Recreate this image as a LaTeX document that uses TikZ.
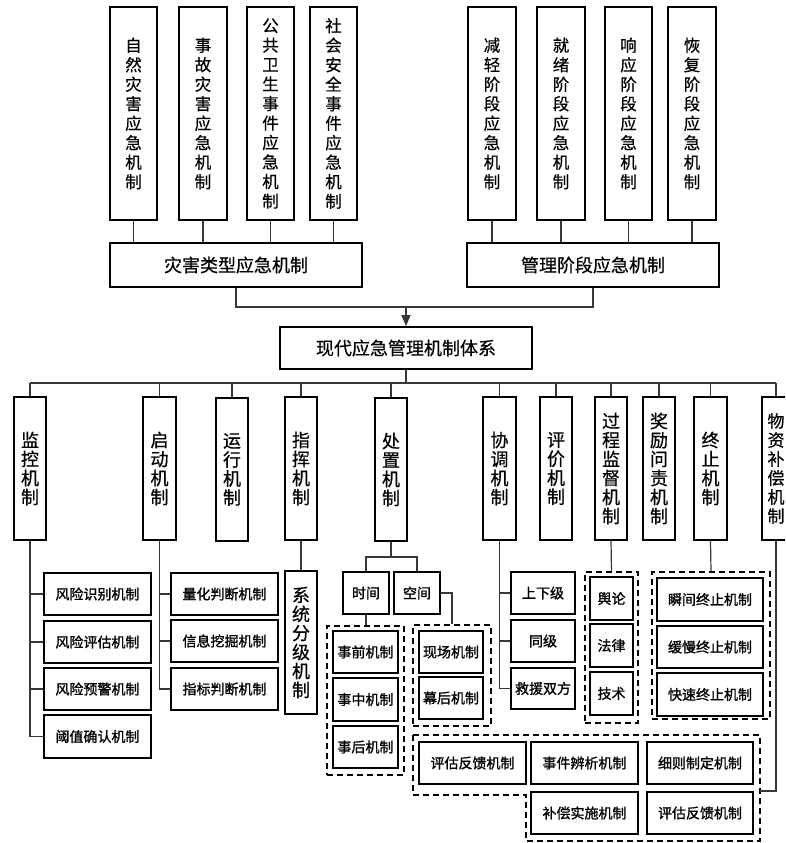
\documentclass[tikz,border=0pt]{standalone}
\usepackage{fontspec}
\setmainfont{Noto Sans CJK SC}[FakeBold=0.5]
\newfontfamily\cjkb[FakeBold=1.2]{Noto Sans CJK SC}
\usetikzlibrary{arrows.meta}
\newcommand\bx[7][]{\node[box,#1,minimum width={#5pt-#3pt},minimum height={#6pt-#4pt}] (#2) at ({(#3+#5)/2},{(#4+#6)/2}) {#7};}
\begin{document}
\begin{tikzpicture}[x=1pt,y=-1pt,
 box/.style={draw=black,line width=1.7pt,inner sep=0pt,align=center},
 topv/.style={font=\fontsize{16.5}{19.5}\selectfont},
 midh/.style={font=\fontsize{18}{20}\selectfont},
 secv/.style={font=\fontsize{18}{19}\selectfont},
 secw/.style={font=\fontsize{17}{19}\selectfont},
 leaf/.style={font=\cjkb\fontsize{14}{16}\selectfont},
 dashb/.style={dash pattern=on 6pt off 4pt},
 conn/.style={draw=black!78,line width=1.2pt},
 dashbox/.style={draw=black,line width=1.7pt,dash pattern=on 6pt off 4pt}]
\useasboundingbox (0,0) rectangle (785,843);
\clip (0,0) rectangle (785,843);
\fill[white] (0,0) rectangle (785,843);
% top level
\bx[topv]{t1}{110}{7}{157}{220}{自\\然\\灾\\害\\应\\急\\机\\制}
\bx[topv]{t2}{179}{7}{227}{220}{事\\故\\灾\\害\\应\\急\\机\\制}
\bx[topv]{t3}{247}{7}{294}{220}{公\\共\\卫\\生\\事\\件\\应\\急\\机\\制}
\bx[topv]{t4}{310}{7}{357}{220}{社\\会\\安\\全\\事\\件\\应\\急\\机\\制}
\bx[topv]{t5}{468}{7}{516}{220}{减\\轻\\阶\\段\\应\\急\\机\\制}
\bx[topv]{t6}{537}{7}{585}{220}{就\\绪\\阶\\段\\应\\急\\机\\制}
\bx[topv]{t7}{605}{7}{652}{220}{响\\应\\阶\\段\\应\\急\\机\\制}
\bx[topv]{t8}{668}{7}{716}{220}{恢\\复\\阶\\段\\应\\急\\机\\制}
\bx[midh]{g1}{110}{243}{362}{287}{灾害类型应急机制}
\bx[midh]{g2}{467}{243}{719}{287}{管理阶段应急机制}
\bx[midh]{root}{280}{327}{532}{369}{现代应急管理机制体系}
\coordinate (gbus) at (0,307);
\coordinate (sbus) at (0,383);
\foreach \i in {1,...,4} \draw[conn] (t\i.south) -- (t\i.south |- g1.north);
\foreach \i in {5,...,8} \draw[conn] (t\i.south) -- (t\i.south |- g2.north);
\draw[conn] (g1.south) |- (gbus -| root.north) -| (g2.south);
\draw[conn,-{Triangle[width=9pt,length=11pt]}] (gbus -| root.north) -- (root.north);
% second level
\bx[secv]{s1}{14}{397}{46}{540}{监\\控\\机\\制}
\bx[secv]{s2}{143}{397}{176}{540}{启\\动\\机\\制}
\bx[secv]{s3}{216}{398}{248}{541}{运\\行\\机\\制}
\bx[secv]{s4}{285}{397}{317}{540}{指\\挥\\机\\制}
\bx[secv]{s5}{375}{398}{407}{541}{处\\置\\机\\制}
\bx[secv]{s6}{483}{397}{516}{540}{协\\调\\机\\制}
\bx[secv]{s7}{540}{397}{572}{540}{评\\价\\机\\制}
\bx[secv]{s8}{595}{397}{627}{540}{过\\程\\监\\督\\机\\制}
\bx[secv]{s9}{643}{397}{675}{540}{奖\\励\\问\\责\\机\\制}
\bx[secv]{s10}{694}{397}{727}{540}{终\\止\\机\\制}
\bx[secw]{s11}{762}{397}{790}{540}{物\\资\\补\\偿\\机\\制}
\draw[conn] (root.south) -- (root.south |- sbus);
\draw[conn] (s1.north |- sbus) -- (s11.north |- sbus);
\foreach \i in {1,...,11} \draw[conn] (s\i.north |- sbus) -- (s\i.north);
% monitor
\bx[leaf]{m1}{44}{573}{151}{615}{风险识别机制}
\bx[leaf]{m2}{44}{621}{151}{663}{风险评估机制}
\bx[leaf]{m3}{44}{668}{151}{710}{风险预警机制}
\bx[leaf]{m4}{44}{715}{151}{758}{阈值确认机制}
\foreach \i in {1,...,4} \draw[conn] (s1.south) |- (m\i.west);
% start
\bx[leaf]{q1}{171}{573}{278}{615}{量化判断机制}
\bx[leaf]{q2}{171}{620}{278}{662}{信息挖掘机制}
\bx[leaf]{q3}{171}{668}{278}{710}{指标判断机制}
\foreach \i in {1,...,3} \draw[conn] (s2.south) |- (q\i.west);
% command
\bx[secv]{sys}{285}{571}{317}{714}{系\\统\\分\\级\\机\\制}
\draw[conn] (s4.south) -- (sys.north);
% disposal
\bx[leaf]{tm}{343}{572}{389}{614}{时间}
\bx[leaf]{sp}{394}{572}{440}{614}{空间}
\coordinate (zj) at (s5.south |- 0,557);
\draw[conn] (s5.south) -- (zj);
\draw[conn] (tm.north) |- (zj) -| (sp.north);
\bx[dashb]{d1}{327}{626}{404}{775}{}
\bx[leaf]{e1}{333}{631}{398}{673}{事前机制}
\bx[leaf]{e2}{333}{678}{398}{721}{事中机制}
\bx[leaf]{e3}{333}{726}{398}{768}{事后机制}
\draw[conn] (tm.south) -- (tm.south |- d1.north);
\bx[dashb]{d2}{413}{625}{491}{726}{}
\bx[leaf]{f1}{419}{631}{483}{673}{现场机制}
\bx[leaf]{f2}{419}{677}{483}{719}{幕后机制}
\draw[conn] (sp.east) -| (d2.north);
% coordination
\bx[leaf]{x1}{511}{572}{575}{614}{上下级}
\bx[leaf]{x2}{511}{620}{575}{662}{同级}
\bx[leaf]{x3}{511}{668}{575}{709}{救援双方}
\foreach \i in {1,...,3} \draw[conn] (s6.south) |- (x\i.west);
% supervision
\bx[dashb]{d3}{585}{572}{638}{723}{}
\bx[leaf]{p1}{590}{577}{633}{620}{舆论}
\bx[leaf]{p2}{590}{624}{633}{667}{法律}
\bx[leaf]{p3}{590}{672}{633}{715}{技术}
\draw[conn] (s8.south) -- (d3.north);
% termination
\bx[dashb]{d4}{652}{572}{770}{719}{}
\bx[leaf]{k1}{657}{578}{763}{621}{瞬间终止机制}
\bx[leaf]{k2}{657}{626}{763}{668}{缓慢终止机制}
\bx[leaf]{k3}{657}{673}{763}{716}{快速终止机制}
\draw[conn] (s10.south) -- (d4.north);
% compensation
\draw[dashbox] (413,735) -- (760,735) -- (760,841) -- (526,841) -- (526,795) -- (413,795) -- cycle;
\coordinate (d5e) at (760,791);
\bx[leaf]{w1}{419}{742}{526}{784}{评估反馈机制}
\bx[leaf]{w2}{531}{742}{638}{784}{事件辨析机制}
\bx[leaf]{w3}{647}{742}{753}{784}{细则制定机制}
\bx[leaf]{w4}{531}{792}{638}{834}{补偿实施机制}
\bx[leaf]{w5}{647}{792}{753}{834}{评估反馈机制}
\draw[conn] (s11.south) |- (d5e);
\end{tikzpicture}
\end{document}
